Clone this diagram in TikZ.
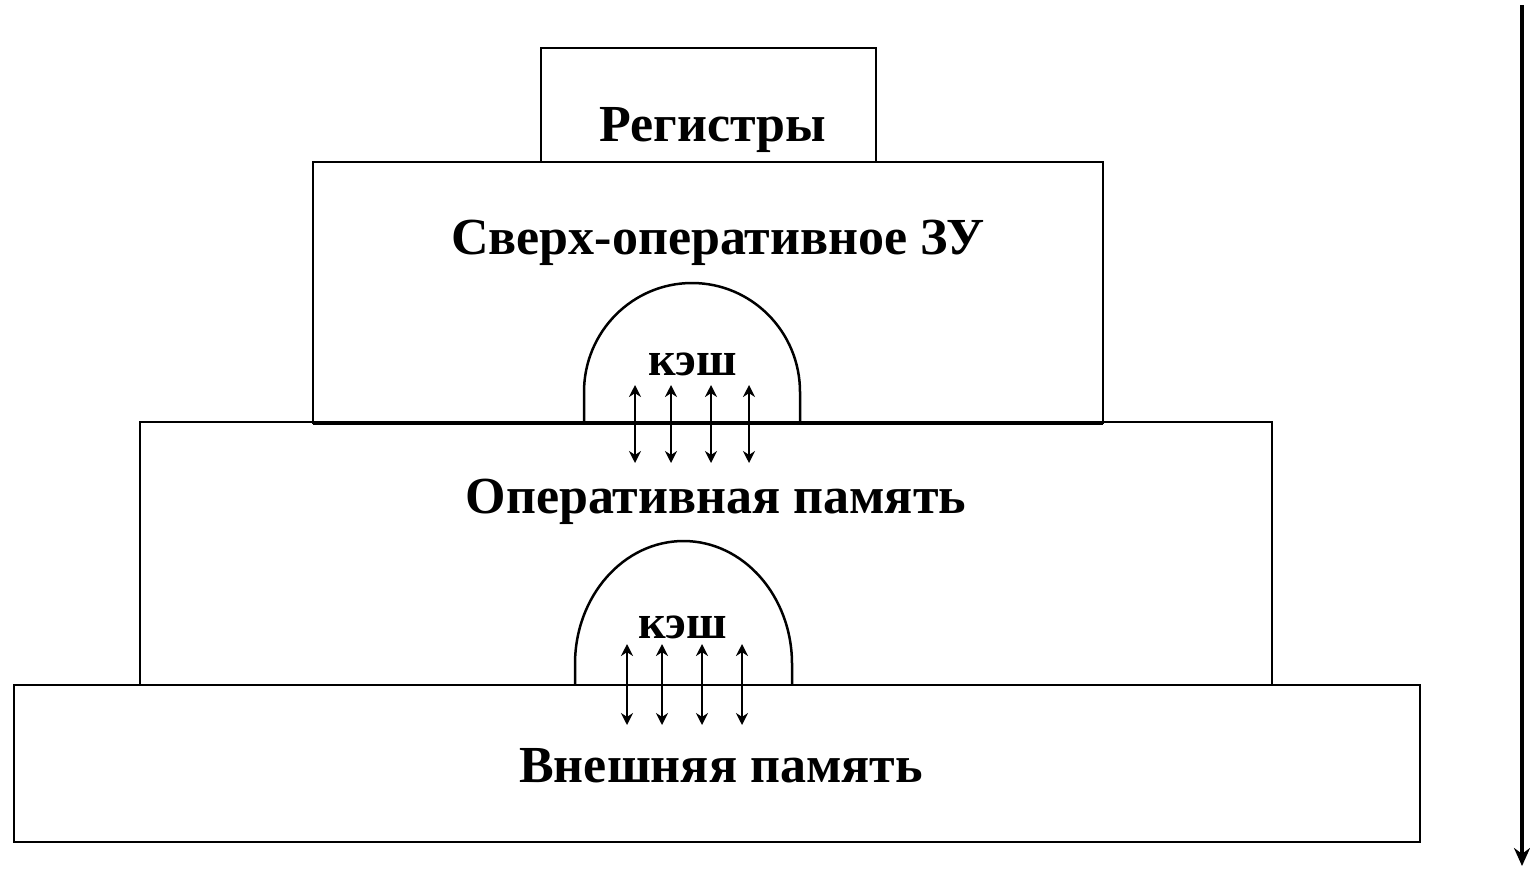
\documentclass[tikz,border=0pt]{standalone}
\usepackage{fontspec}
\setmainfont{Liberation Serif}
\usetikzlibrary{arrows.meta}
\tikzset{
  level/.style={draw=black, line width=2.8pt, fill=white},
  lbl/.style={font=\fontsize{52}{58}\selectfont\bfseries, inner sep=0pt},
  cachelbl/.style={font=\fontsize{48}{52}\selectfont\bfseries, inner sep=0pt},
  dome/.style={draw=black, line width=2.5pt},
  xfer/.style={{Stealth[length=12pt,width=12pt]}-{Stealth[length=12pt,width=12pt]}, line width=2.6pt},
}
\begin{document}
\begin{tikzpicture}[x=1pt,y=-1pt]
\useasboundingbox (0,0) rectangle (1530,873);
\fill[white] (0,0) rectangle (1530,873);
% levels
\draw[level] (14,685) rectangle (1420,842);
\draw[level] (140,422) rectangle (1272,685);
\draw[level] (313,162) rectangle (1103,423);
\draw[level] (541,48) rectangle (876,162);
\draw[line width=4.5pt] (313,423) -- (1103,423);
% labels
\node[lbl] (reg) at (713,130) {Регистры};
\node[lbl] (sozu) at (718,243) {Сверх-оперативное ЗУ};
\node[lbl] (ozu) at (716,502) {Оперативная память};
\node[lbl] (ext) at (721,766) {Внешняя память};
% cache domes
\draw[dome] (584,423) -- (584,392) arc[start angle=180, end angle=0, x radius=108, y radius=-109] -- (800,423);
\draw[dome] (575,684) -- (575,664) arc[start angle=180, end angle=0, x radius=108.5, y radius=-123] -- (792,684);
\node[cachelbl] (c1) at (693,364) {кэш};
\node[cachelbl] (c2) at (683,627) {кэш};
% transfer arrows
\foreach \x [count=\i] in {635,671,711,749}{
  \coordinate (a\i t) at (\x,385);
  \coordinate (a\i b) at (\x,463);
  \draw[xfer] (a\i t) -- (a\i b);
}
\foreach \x [count=\i] in {627,662,702,742}{
  \coordinate (b\i t) at (\x,644);
  \coordinate (b\i b) at (\x,725);
  \draw[xfer] (b\i t) -- (b\i b);
}
% right arrow
\coordinate (ra) at (1522,5);
\coordinate (rb) at (1522,866);
\draw[line width=3.5pt, -{Stealth[length=18pt,width=16pt]}] (ra) -- (rb);
\end{tikzpicture}
\end{document}
